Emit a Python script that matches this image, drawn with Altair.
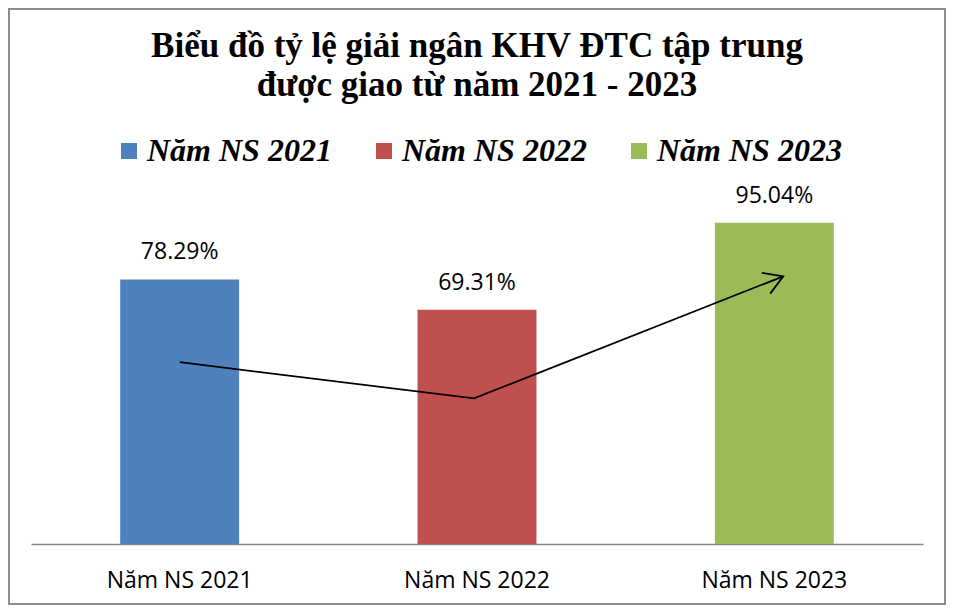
import altair as alt
import pandas as pd

categories = ["Năm NS 2021", "Năm NS 2022", "Năm NS 2023"]
rates = [78.29, 69.31, 95.04]
colors = ["#4F81BD", "#C0504D", "#9BBB59"]

# trend arrow drawn over the bars (positions in category units, values in %)
arrow_pos = [0.50, 1.49, 2.53]
arrow_val = [53.8, 43.1, 79.2]

title_lines = ["Biểu đồ tỷ lệ giải ngân KHV ĐTC tập trung", "được giao từ năm 2021 - 2023"]

bars_df = pd.DataFrame({"cat": categories, "rate": rates})
arrow_df = pd.DataFrame({"pos": arrow_pos, "val": arrow_val})
head_df = arrow_df.tail(1)

W, H = 892, 338

yscale = alt.Scale(domain=[0, 100], nice=False, zero=True)
xcat = alt.X("cat:N", sort=categories,
             scale=alt.Scale(paddingInner=0.6, paddingOuter=0.3),
             axis=alt.Axis(title=None, labelAngle=0, ticks=False, domainColor="#868686",
                           domainWidth=1.3, labelFont="Open Sans", labelFontSize=23,
                           labelColor="#000000", labelPadding=43, labelBaseline="alphabetic"))

bars = alt.Chart(bars_df).mark_bar().encode(
    x=xcat,
    y=alt.Y("rate:Q", scale=yscale, axis=None),
    color=alt.Color("cat:N", sort=categories,
                    scale=alt.Scale(domain=categories, range=colors),
                    legend=alt.Legend(title=None, orient="none", legendX=82, legendY=-71,
                                      direction="horizontal", symbolType="square",
                                      symbolSize=256, symbolStrokeWidth=0,
                                      labelFont="Liberation Serif", labelFontSize=32,
                                      labelFontStyle="italic", labelFontWeight="bold",
                                      labelColor="#000000", labelOffset=2, labelLimit=0,
                                      columnPadding=36, padding=0)),
)

labels = alt.Chart(bars_df).transform_calculate(
    lab="format(datum.rate, '.2f') + '%'"
).mark_text(font="Open Sans", fontSize=23, color="#000000", baseline="alphabetic", dy=-20).encode(
    x=xcat,
    y=alt.Y("rate:Q", scale=yscale, axis=None),
    text="lab:N",
)

xq = alt.Scale(domain=[0, 3], nice=False, zero=False)

line = alt.Chart(arrow_df).mark_line(color="#000000", strokeWidth=1.8).encode(
    x=alt.X("pos:Q", scale=xq, axis=None),
    y=alt.Y("val:Q", scale=yscale, axis=None),
)

head = alt.Chart(head_df).mark_point(
    shape="M -1 -0.6 L 0 0 L -1 0.6", filled=False, stroke="#000000",
    strokeWidth=1.8, size=1384, angle=338, opacity=1
).encode(
    x=alt.X("pos:Q", scale=xq, axis=None),
    y=alt.Y("val:Q", scale=yscale, axis=None),
)

frame = alt.Chart(pd.DataFrame({"a": [0]})).mark_rect(
    fill=None, stroke="#8c8c8c", strokeWidth=2
).encode(
    x=alt.value(-22), x2=alt.value(W + 22), y=alt.value(-197), y2=alt.value(H + 60)
)

chart = alt.layer(frame, alt.layer(bars, labels), alt.layer(line, head)).resolve_scale(
    x="independent"
).properties(
    width=W, height=H,
    autosize=alt.AutoSizeParams(type="none"),
    padding={"left": 23, "top": 198, "right": 23, "bottom": 61},
    title=alt.TitleParams(text=title_lines, font="Liberation Serif", fontSize=35,
                          fontWeight="bold", color="#000000", lineHeight=39,
                          anchor="middle", offset=-95),
).configure_view(stroke=None)

chart.save("out.html", embed_options={"renderer": "svg", "actions": False})
